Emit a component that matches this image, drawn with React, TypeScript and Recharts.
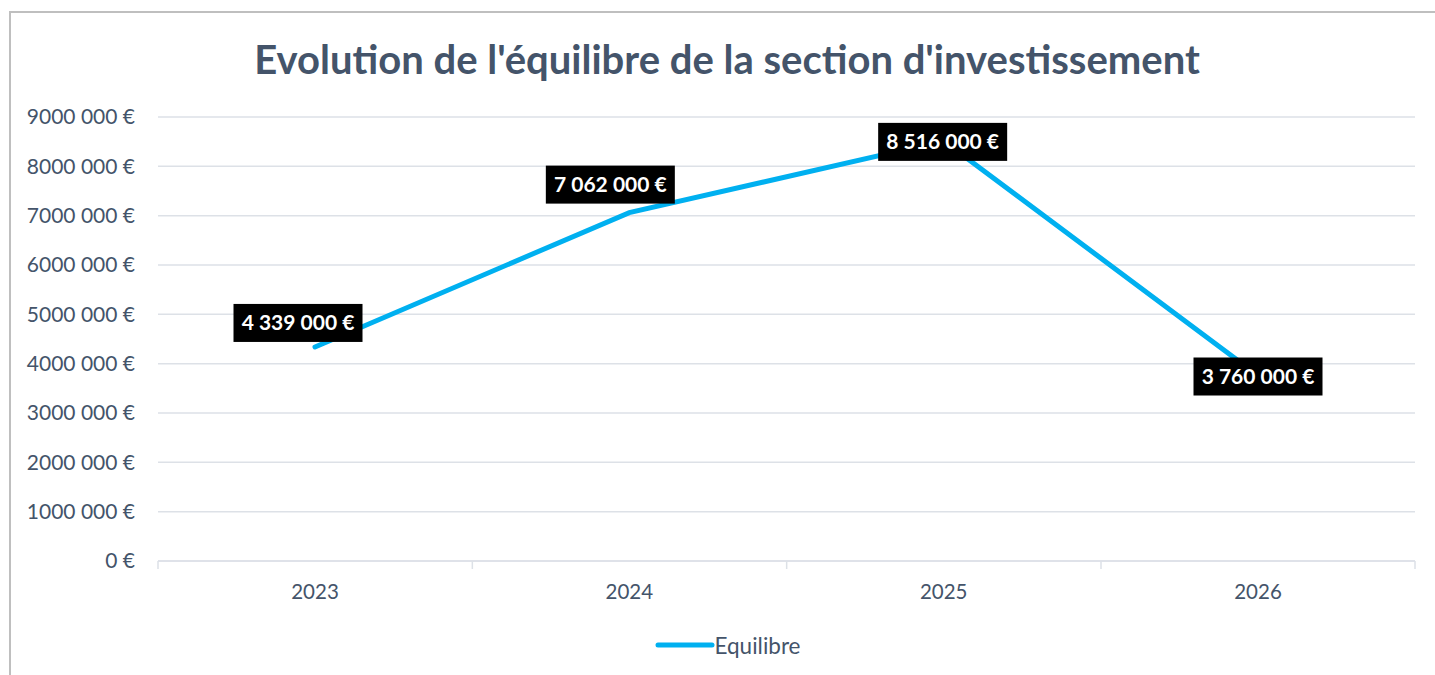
import React from 'react';
import { LineChart, Line, XAxis, YAxis, CartesianGrid, Legend, LabelList } from 'recharts';

const years = ['2023', '2024', '2025', '2026'];
const equilibre = [4339000, 7062000, 8516000, 3760000];
const valueLabels = ['4 339 000 €', '7 062 000 €', '8 516 000 €', '3 760 000 €'];
const yTicks = [0, 1000000, 2000000, 3000000, 4000000, 5000000, 6000000, 7000000, 8000000, 9000000];
const yTickLabels = ['0 €', '1000 000 €', '2000 000 €', '3000 000 €', '4000 000 €', '5000 000 €', '6000 000 €', '7000 000 €', '8000 000 €', '9000 000 €'];
const seriesName = 'Equilibre';
const title = "Evolution de l'équilibre de la section d'investissement";

const data = years.map((year, i) => ({ year, value: equilibre[i], label: valueLabels[i] }));

const FONT = 'Lato, "Noto Sans", sans-serif';
const TEXT = '#44546A';
const LINE = '#00B0F0';
const GRID = '#DDE1E7';
const HALF_BAND = 157;
const LABEL_SHIFT = [[-17, -24], [-19, -28], [-1, 1], [0, 1]];

const XTick = (props: any) => {
  const { x, y, payload, index, visibleTicksCount } = props;
  const last = index === visibleTicksCount - 1;
  return (
    <g>
      <line x1={x - HALF_BAND} x2={x - HALF_BAND} y1={y} y2={y + 8} stroke={GRID} strokeWidth={1.5} />
      {last && <line x1={x + HALF_BAND} x2={x + HALF_BAND} y1={y} y2={y + 8} stroke={GRID} strokeWidth={1.5} />}
      <text x={x} y={y + 38} textAnchor="middle" fill={TEXT} fontSize={20.5} fontFamily={FONT}>
        {payload.value}
      </text>
    </g>
  );
};

const DataLabel = (props: any) => {
  const { x, y, index } = props;
  const [dx, dy] = LABEL_SHIFT[index] || [0, 0];
  const cx = x + dx;
  const cy = y + dy;
  const w = 129;
  const h = 38;
  return (
    <g>
      <rect x={cx - w / 2} y={cy - h / 2} width={w} height={h} fill="#000000" />
      <text x={cx} y={cy + 7.5} textAnchor="middle" fill="#FFFFFF" fontSize={21} fontWeight={700} fontFamily={FONT}>
        {valueLabels[index]}
      </text>
    </g>
  );
};

const LegendContent = () => (
  <div style={{ display: 'flex', justifyContent: 'center', alignItems: 'center', height: 24, fontFamily: FONT, paddingLeft: 40 }}>
    <svg width={60} height={10}>
      <line x1={3} x2={57} y1={5} y2={5} stroke={LINE} strokeWidth={5} strokeLinecap="round" />
    </svg>
    <span style={{ color: TEXT, fontSize: 22.5 }}>{seriesName}</span>
  </div>
);

export default function App() {
  return (
    <div style={{ position: 'fixed', left: 0, top: 0, width: 1435, height: 675, overflow: 'hidden', background: '#FFFFFF' }}>
      <svg width={1435} height={675} style={{ position: 'absolute', left: 0, top: 0 }}>
        <rect x={10} y={12} width={1600} height={800} fill="none" stroke="#BFBFBF" strokeWidth={2} />
        <text x={727} y={74} textAnchor="middle" fill={TEXT} fontSize={40} fontWeight={700} fontFamily={FONT}>
          {title}
        </text>
      </svg>
      <div style={{ position: 'absolute', left: 0, top: 0 }}>
        <LineChart width={1435} height={675} data={data} margin={{ top: 117, right: 20, left: 0, bottom: 18 }}>
          <CartesianGrid vertical={false} stroke={GRID} strokeWidth={1.5} />
          <XAxis
            dataKey="year"
            padding={{ left: HALF_BAND, right: HALF_BAND }}
            axisLine={{ stroke: GRID, strokeWidth: 1.5 }}
            tickLine={false}
            tickSize={0}
            tickMargin={0}
            height={72}
            tick={<XTick />}
            interval={0}
          />
          <YAxis
            domain={[0, 9000000]}
            ticks={yTicks}
            width={158}
            axisLine={false}
            tickLine={false}
            tickMargin={17}
            tick={{ fill: TEXT, fontSize: 21, fontFamily: FONT }}
            tickFormatter={(v: number) => yTickLabels[yTicks.indexOf(v)]}
          />
          <Legend verticalAlign="bottom" height={24} content={<LegendContent />} />
          <Line
            type="linear"
            dataKey="value"
            name={seriesName}
            stroke={LINE}
            strokeWidth={5}
            strokeLinecap="round"
            dot={false}
            activeDot={false}
            isAnimationActive={false}
          >
            <LabelList dataKey="value" content={<DataLabel />} />
          </Line>
        </LineChart>
      </div>
    </div>
  );
}
